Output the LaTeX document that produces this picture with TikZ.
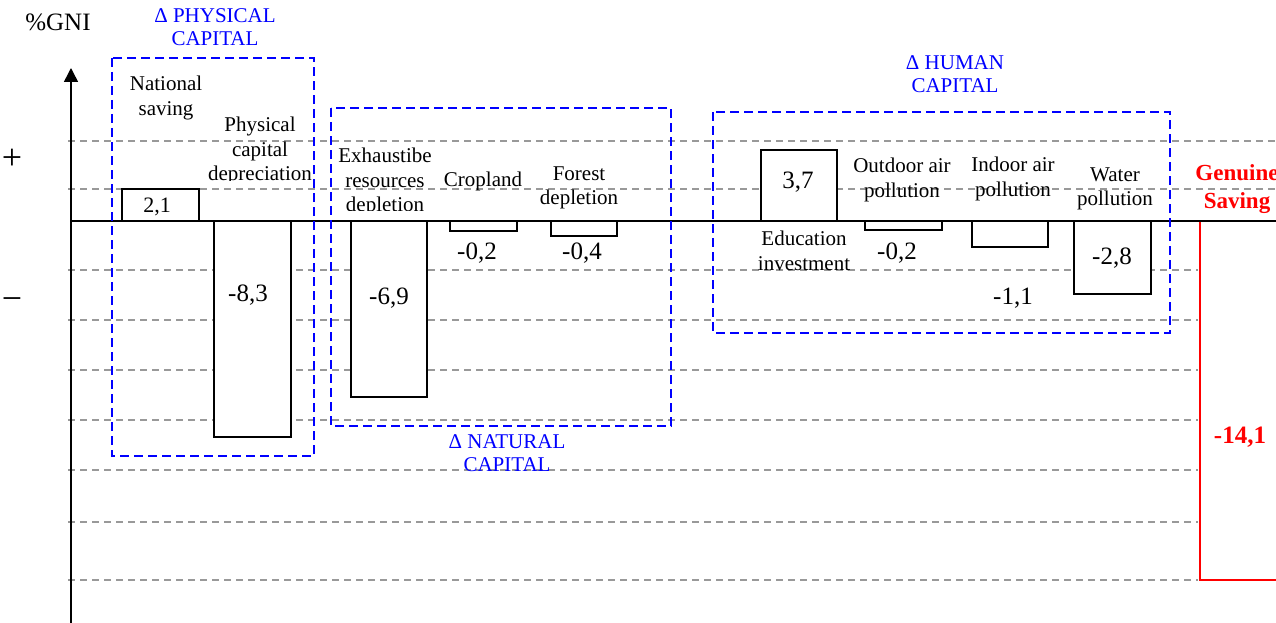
\documentclass[tikz,border=0pt]{standalone}
\usepackage{fontspec}
\setmainfont{Liberation Serif}
\usetikzlibrary{arrows.meta}
\begin{document}
\begin{tikzpicture}[x=1pt,y=-1pt,
  gridline/.style={draw=black!40, line width=1.5pt, dash pattern=on 7pt off 5pt},
  groupbox/.style={draw=blue, line width=2.5pt, dash pattern=on 9pt off 5pt},
  barbox/.style={draw=black, fill=white, line width=1.6pt},
  lbl/.style={font=\fontsize{21}{24.5}\selectfont, align=center, inner sep=0pt},
  num/.style={font=\fontsize{25}{30}\selectfont, inner sep=0pt},
  ttl/.style={text=blue, font=\fontsize{21}{23.5}\selectfont, align=center, inner sep=0pt},
  gs/.style={text=red, font=\fontsize{23}{28}\selectfont\bfseries, align=center, inner sep=0pt}
]
\useasboundingbox (0,0) rectangle (1276,623);

% grid lines
\foreach \yy in {141,189} {\draw[gridline] (68,\yy) -- (1280,\yy);}
\foreach \yy in {270,320,370,420,470,522,580} {\draw[gridline] (68,\yy) -- (1198,\yy);}

% genuine saving bar
\draw[red, line width=1.6pt] (1300,221) -- (1200,221) -- (1200,580) -- (1300,580);

% zero line and axis
\coordinate (z0) at (71,221);
\coordinate (z1) at (1280,221);
\draw[line width=1.5pt] (z0) -- (z1);
\coordinate (ybot) at (71,630);
\coordinate (ytop) at (71,68);
\draw[line width=1.5pt, -{Triangle[length=14pt,width=14pt]}] (ybot) -- (ytop);

% bars
\draw[barbox] (122,189) rectangle (199,221);
\draw[barbox] (214,221) rectangle (291,437);
\draw[barbox] (351,221) rectangle (427,397);
\draw[barbox] (450,221) rectangle (517,231);
\draw[barbox] (551,221) rectangle (617,236);
\draw[barbox] (761,150) rectangle (837,221);
\draw[barbox] (865,221) rectangle (942,230);
\draw[barbox] (972,221) rectangle (1048,247);
\draw[barbox] (1074,221) rectangle (1151,294);

% side labels
\node[inner sep=0pt, font=\fontsize{25}{30}\selectfont] (gni) at (58,22) {\%GNI};
\node[inner sep=0pt, font=\fontsize{36}{36}\selectfont] (plus) at (12,159) {+};
\node[inner sep=0pt, font=\fontsize{36}{36}\selectfont] (minus) at (12,304) {−};

% category labels
\node[lbl] (lns) at (166,98) {National\\saving};
\begin{scope}
\clip (200,100) rectangle (330,180);
\node[lbl] (lpcd) at (260,151) {Physical\\capital\\depreciation};
\end{scope}
\begin{scope}
\clip (332,120) rectangle (440,210);
\node[lbl] (lerd) at (385,182) {Exhaustibe\\resources\\depletion};
\end{scope}
\node[lbl] (lcrop) at (483,181) {Cropland};
\node[lbl] (lfor) at (579,188) {Forest\\depletion};
\node[lbl] (ledu) at (804,251) {Education\\investment};
\node[lbl] (lout) at (902,180) {Outdoor air\\pollution};
\node[lbl] (lind) at (1013,179) {Indoor air\\pollution};
\node[lbl] (lwat) at (1115,189) {Water\\pollution};
\node[gs] (lgs) at (1237,189) {Genuine\\Saving};

% values
\node[num, font=\fontsize{22}{26}\selectfont] (vns) at (157,207) {2,1};
\node[num] (vpcd) at (248,295) {-8,3};
\node[num] (verd) at (389,298) {-6,9};
\node[num] (vcrop) at (477,253) {-0,2};
\node[num] (vfor) at (582,253) {-0,4};
\node[num] (vedu) at (798,182) {3,7};
\node[num] (vout) at (897,253) {-0,2};
\node[num] (vind) at (1013,298) {-1,1};
\node[num] (vwat) at (1112,258) {-2,8};
\node[gs, font=\fontsize{25}{30}\selectfont\bfseries] (vgs) at (1240,437) {-14,1};

% group boxes
\draw[groupbox] (112,58) rectangle (314,456);
\draw[groupbox] (331,108) rectangle (671,426);
\draw[groupbox] (713,112) rectangle (1170,333);
\node[ttl] (tphys) at (215,27) {Δ PHYSICAL\\CAPITAL};
\node[ttl] (tnat) at (507,453) {Δ NATURAL\\CAPITAL};
\node[ttl] (thum) at (955,74) {Δ HUMAN\\CAPITAL};
\end{tikzpicture}
\end{document}
